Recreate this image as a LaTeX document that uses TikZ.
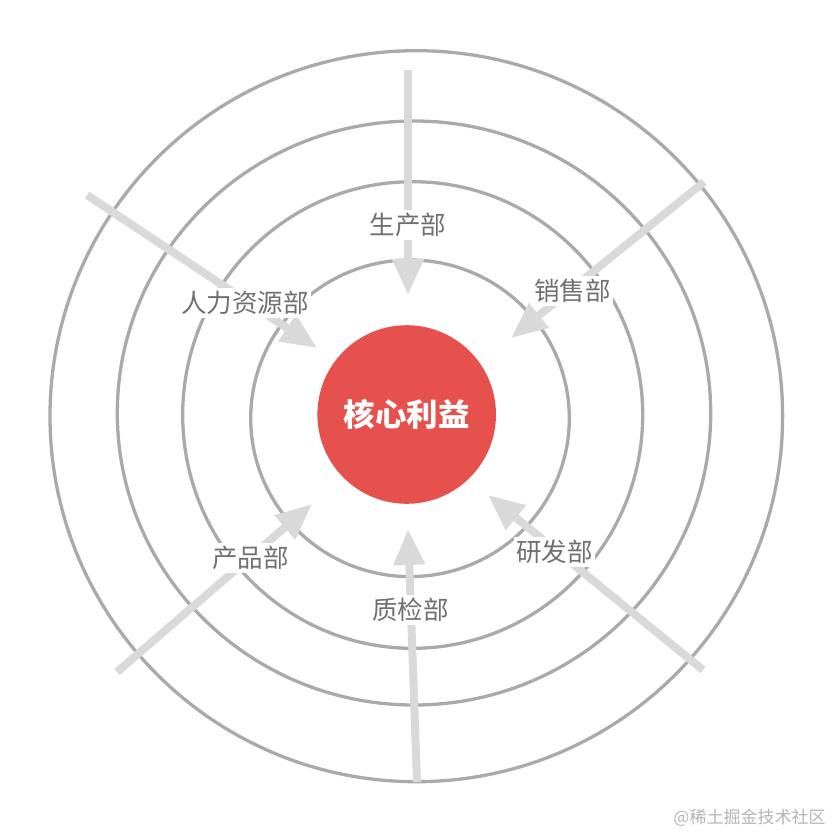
\documentclass[tikz,border=0pt]{standalone}
\usepackage{fontspec}
\newfontfamily\cjk{Noto Sans CJK SC}
\usetikzlibrary{arrows.meta}
\definecolor{ringgray}{HTML}{AAAAAA}
\definecolor{arrowgray}{HTML}{D9D9D9}
\definecolor{labelgray}{HTML}{707070}
\definecolor{corered}{HTML}{E6504D}
\definecolor{markgray}{HTML}{B4B4B4}
\tikzset{
  ring/.style={draw=ringgray, line width=3.3pt},
  feed/.style={draw=arrowgray, line width=8pt, -{Triangle[length=36pt,width=30pt]}},
  dept/.style={fill=white, text=labelgray, inner xsep=2pt, inner ysep=3.5pt, font=\cjk\fontsize{25.5}{30}\selectfont},
  corebox/.style={circle, fill=corered, inner sep=0pt, minimum size=178.6pt, text=white, font=\cjk\bfseries\fontsize{31.5}{36}\selectfont},
  wmtext/.style={text=markgray, inner sep=0pt, font=\cjk\fontsize{17}{20}\selectfont}
}
\begin{document}
\begin{tikzpicture}[x=1pt,y=-1pt]
\useasboundingbox (0,0) rectangle (834,834);
% rings
\draw[ring] (416.3,416.2) ellipse [x radius=366.3pt, y radius=365.5pt];
\draw[ring] (414,413) ellipse [x radius=296.7pt, y radius=292pt];
\draw[ring] (412.7,415) ellipse [x radius=230pt, y radius=233.3pt];
\draw[ring] (410,418.3) ellipse [x radius=159.3pt, y radius=158.3pt];
% arrow ends
\coordinate (s1) at (408,70);   \coordinate (t1) at (408,295);
\coordinate (s2) at (87,195);   \coordinate (t2) at (317,348);
\coordinate (s3) at (704,182);  \coordinate (t3) at (511,338);
\coordinate (s4) at (703,670);  \coordinate (t4) at (488,495);
\coordinate (s5) at (117,672);  \coordinate (t5) at (312,504);
\coordinate (s6) at (417,782);  \coordinate (t6) at (408,529);
\draw[feed] (s1) -- (t1);
\draw[feed] (s2) -- (t2);
\draw[feed] (s3) -- (t3);
\draw[feed] (s4) -- (t4);
\draw[feed] (s5) -- (t5);
\draw[feed] (s6) -- (t6);
% labels
\node[dept] (l1) at (408,225) {生产部};
\node[dept] (l2) at (245,303) {人力资源部};
\node[dept] (l3) at (572.5,291) {销售部};
\node[dept] (l4) at (554.5,552) {研发部};
\node[dept] (l5) at (250.5,558) {产品部};
\node[dept] (l6) at (410.7,610) {质检部};
% core
\node[corebox] (core) at (406.7,414.5) {核心利益};
% watermark
\node[wmtext] (wm) at (749.5,817.5) {@稀土掘金技术社区};
\end{tikzpicture}
\end{document}
